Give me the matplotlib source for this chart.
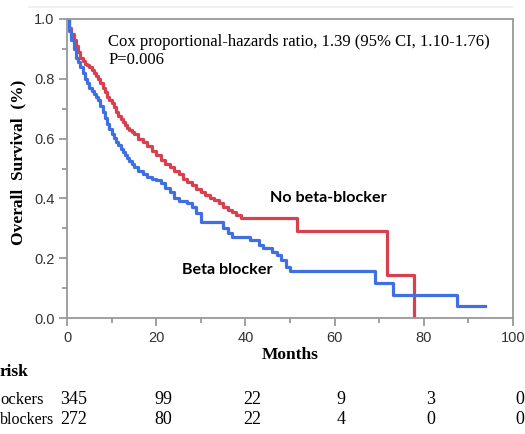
"""Kaplan-Meier overall survival, beta blocker vs no beta-blocker."""

import matplotlib
matplotlib.use("Agg")
import matplotlib.pyplot as plt
from matplotlib.ticker import MultipleLocator

# survival curves (months, survival fraction)
no_bb_months = [0, 0.5, 1, 1.5, 2, 2.5, 3, 3.5, 4, 4.5, 5, 5.5, 6, 6.5, 7, 7.5,
                8, 8.5, 9, 9.5, 10, 10.5, 11, 11.5, 12, 12.5, 13, 13.5, 14,
                14.5, 15, 16, 17, 18, 19, 20, 21, 22, 23, 24, 25, 26, 27, 28,
                29, 30, 31, 32, 33, 34, 35, 36, 37, 38, 39, 51.5, 71.7, 77.8]
no_bb_surv = [1.0, 0.97, 0.95, 0.93, 0.91, 0.89, 0.87, 0.86, 0.85, 0.845,
              0.84, 0.83, 0.82, 0.81, 0.80, 0.785, 0.77, 0.755, 0.74, 0.73,
              0.72, 0.705, 0.69, 0.675, 0.665, 0.655, 0.645, 0.637, 0.63,
              0.622, 0.615, 0.60, 0.59, 0.575, 0.56, 0.545, 0.53, 0.515, 0.505,
              0.49, 0.48, 0.465, 0.455, 0.445, 0.43, 0.42, 0.41, 0.40, 0.395,
              0.385, 0.37, 0.36, 0.355, 0.345, 0.335, 0.29, 0.144, 0.0]

bb_months = [0, 0.5, 1, 1.5, 2, 2.5, 3, 3.5, 4, 4.5, 5, 5.5, 6, 6.5, 7, 7.5, 8,
             8.5, 9, 9.5, 10, 10.5, 11, 11.5, 12, 12.5, 13, 13.5, 14, 14.5, 15,
             16, 17, 18, 19, 20, 21, 22, 23, 24, 25, 27, 28, 29, 30, 35, 36, 37,
             41, 43, 44, 46, 47, 48, 49, 50, 69.1, 73.1, 87.4, 93.7]
bb_surv = [1.0, 0.96, 0.93, 0.90, 0.87, 0.855, 0.84, 0.82, 0.80, 0.785, 0.77,
           0.76, 0.75, 0.74, 0.73, 0.71, 0.69, 0.67, 0.65, 0.632, 0.615, 0.602,
           0.59, 0.577, 0.565, 0.555, 0.545, 0.535, 0.525, 0.515, 0.505, 0.49,
           0.48, 0.47, 0.465, 0.46, 0.45, 0.435, 0.42, 0.40, 0.39, 0.385, 0.37,
           0.35, 0.32, 0.30, 0.285, 0.27, 0.26, 0.245, 0.235, 0.22, 0.21,
           0.195, 0.17, 0.157, 0.117, 0.077, 0.04, 0.04]

# numbers at risk
risk_months = [0, 20, 40, 60, 80, 100]
risk_no_bb = [345, 99, 22, 9, 3, 0]
risk_bb = [272, 80, 22, 4, 0, 0]

RED = "#d9404f"
BLUE = "#3f6fe0"
SERIF = "Liberation Serif"

fig = plt.figure(figsize=(5.25, 4.34), dpi=100)
ax = fig.add_axes([67 / 525, 1 - 318 / 434, 446 / 525, 299 / 434])

# faint rule along the top of the screenshot
fig.add_artist(plt.Line2D([29 / 525, 512 / 525], [1 - 7 / 434, 1 - 7 / 434],
                          color="#eeeeee", lw=1.2))

ax.step(no_bb_months, no_bb_surv, where="post", color=RED, lw=2.3)
ax.step(bb_months, bb_surv, where="post", color=BLUE, lw=2.3)

ax.set_xlim(0, 100)
ax.set_ylim(0, 1.0)
ax.xaxis.set_major_locator(MultipleLocator(20))
ax.xaxis.set_minor_locator(MultipleLocator(10))
ax.yaxis.set_major_locator(MultipleLocator(0.2))
ax.yaxis.set_minor_locator(MultipleLocator(0.1))
ax.yaxis.set_major_formatter(lambda v, pos: f"{v:.1f}")
ax.tick_params(which="major", length=6, width=1.3, color="#999999",
               labelsize=10.5, labelcolor="#333333", pad=3)
ax.tick_params(which="minor", length=3.5, width=1.3, color="#999999")
for lab in ax.get_xticklabels() + ax.get_yticklabels():
    lab.set_fontfamily("Liberation Sans")
for sp in ax.spines.values():
    sp.set_color("#999999")
    sp.set_linewidth(1.3)

ax.set_ylabel("Overall  Survival  (%)", fontfamily=SERIF, fontweight="bold",
              fontsize=12.5)
ax.yaxis.set_label_coords(-0.092, 0.52)
ax.set_xlabel("Months", fontfamily=SERIF, fontweight="bold", fontsize=12.5,
              labelpad=2)

ax.text(0.092, 0.923, "Cox proportional-hazards ratio, 1.39 (95% CI, 1.10-1.76)",
        transform=ax.transAxes, fontfamily=SERIF, fontsize=12, va="center")
ax.text(0.092, 0.862, "P=0.006", transform=ax.transAxes, fontfamily=SERIF,
        fontsize=12, va="center")

ax.text(45.5, 0.401, "No beta-blocker", fontfamily="Lato", fontweight="bold",
        fontsize=11.6, va="center")
ax.text(25.8, 0.16, "Beta blocker", fontfamily="Lato", fontweight="bold",
        fontsize=11.6, va="center")

# numbers-at-risk table below the x axis
xt = ax.get_xaxis_transform()
row1_y = (318 - 400) / 299
row2_y = (318 - 420) / 299
for m, a, b in zip(risk_months, risk_no_bb, risk_bb):
    ax.text(m + 1.5, row1_y, str(a), transform=xt, ha="center", va="center",
            fontfamily=SERIF, fontsize=13, clip_on=False)
    ax.text(m + 1.5, row2_y, str(b), transform=xt, ha="center", va="center",
            fontfamily=SERIF, fontsize=13, clip_on=False)

fig.text(0.0, 1 - 372 / 434, "risk", ha="left", va="center", fontfamily=SERIF,
         fontweight="bold", fontsize=12.5)
fig.text(0.0, 1 - 400 / 434, "ockers", ha="left", va="center",
         fontfamily=SERIF, fontsize=12)
fig.text(0.0, 1 - 420 / 434, "blockers", ha="left", va="center",
         fontfamily=SERIF, fontsize=11.5)

fig.savefig("out.png", dpi=100)
